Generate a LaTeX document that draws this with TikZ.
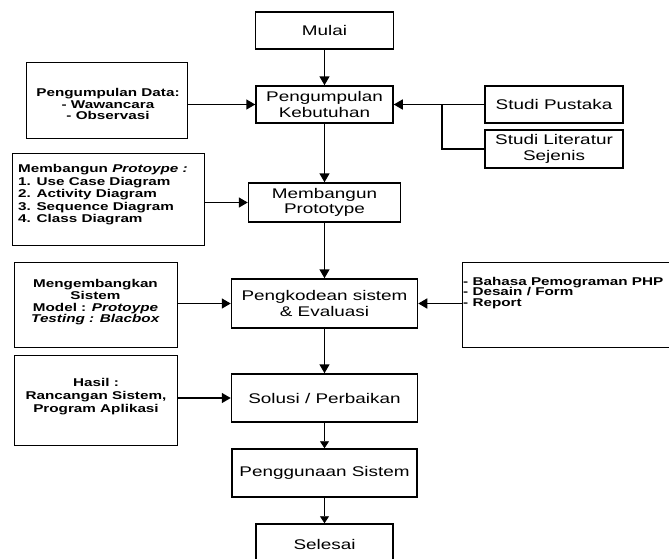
\documentclass[tikz,border=0pt]{standalone}
\usepackage{fontspec}
\setmainfont{Liberation Sans}[FakeStretch=1.35]
\usetikzlibrary{arrows.meta}
\begin{document}
\begin{tikzpicture}[x=1pt,y=-1pt,
  mainbox/.style={draw,line width=1.5pt,rectangle,inner sep=0pt,align=center,
    font=\fontsize{14}{15.5}\selectfont},
  sidebox/.style={draw,line width=1pt,rectangle,inner sep=0pt},
  sidetext/.style={inner sep=0pt,font=\fontsize{11.3}{11.8}\selectfont\bfseries},
  arr/.style={line width=1.5pt,-{Triangle[length=9pt,width=10pt]}},
  thinarr/.style={line width=0.8pt,-{Triangle[length=7pt,width=9pt]}},
  conn/.style={line width=1.5pt}]
\useasboundingbox (0,0) rectangle (669,558);
% main flow
\node[mainbox,minimum width=138,minimum height=37] (mulai) at (324.5,30.5) {Mulai};
\node[mainbox,minimum width=137,minimum height=37] (keb) at (324.5,104.5) {Pengumpulan\\Kebutuhan};
\node[mainbox,minimum width=152,minimum height=39] (proto) at (324.5,202.5) {Membangun\\Prototype};
\node[mainbox,minimum width=186,minimum height=49] (kode) at (324.5,303.5) {Pengkodean sistem\\\& Evaluasi};
\node[mainbox,minimum width=186,minimum height=48] (solusi) at (324.5,398) {Solusi / Perbaikan};
\node[mainbox,minimum width=185,minimum height=48] (guna) at (324.5,473) {Penggunaan Sistem};
\node[mainbox,minimum width=137,minimum height=41] (selesai) at (324.5,544.5) {Selesai};
% right boxes
\node[mainbox,minimum width=138,minimum height=37] (pustaka) at (554,104.5) {Studi Pustaka};
\node[mainbox,minimum width=138,minimum height=38] (lit) at (554,149) {Studi Literatur\\Sejenis};
\node[sidebox,minimum width=218,minimum height=85] (bahasa) at (571,304.5) {};
\node[sidetext,anchor=west,align=left,font=\fontsize{11.3}{10.8}\selectfont\bfseries] (bahasat) at (463,293) {- Bahasa Pemograman PHP\\- Desain / Form\\- Report};
% left boxes
\node[sidebox,minimum width=161,minimum height=76] (data) at (106.5,100) {};
\node[sidetext,align=center] (datat) at (108,104) {Pengumpulan Data:\\- Wawancara\\- Observasi};
\node[sidebox,minimum width=192,minimum height=92] (bangun) at (108,199) {};
\node[sidetext,anchor=west,align=left,font=\fontsize{11.3}{12.5}\selectfont\bfseries] (bangunt) at (18,195) {Membangun \textit{Protoype :}\\1. Use Case Diagram\\2. Activity Diagram\\3. Sequence Diagram\\4. Class Diagram};
\node[sidebox,minimum width=163,minimum height=85] (kembang) at (95.5,304.5) {};
\node[sidetext,align=center,font=\fontsize{11.3}{11.7}\selectfont\bfseries] (kembangt) at (95.5,302.5) {Mengembangkan\\Sistem\\Model : \textit{Protoype}\\\textit{Testing : Blacbox}};
\node[sidebox,minimum width=163,minimum height=90] (hasil) at (95.5,400) {};
\node[sidetext,align=center,font=\fontsize{11.3}{13}\selectfont\bfseries] (hasilt) at (96,397) {Hasil :\\Rancangan Sistem,\\Program Aplikasi};
% connectors
\draw[arr] (mulai) -- (keb);
\draw[arr] (keb) -- (proto);
\draw[arr] (proto) -- (kode);
\draw[arr] (kode) -- (solusi);
\draw[thinarr] (solusi) -- (guna);
\draw[thinarr] (guna) -- (selesai);
\draw[arr] (keb.west -| data.east) -- (keb.west);
\draw[arr] (proto.west -| bangun.east) -- (proto.west);
\draw[arr] (kode.west -| kembang.east) -- (kode.west);
\draw[arr] (solusi.west -| hasil.east) -- (solusi.west);
\coordinate (j) at (442,104.5);
\draw[arr] (pustaka.west) -- (keb.east);
\draw[conn] (lit.west) -| (j);
\draw[arr] (bahasa.west |- kode.east) -- (kode.east);
\end{tikzpicture}
\end{document}
